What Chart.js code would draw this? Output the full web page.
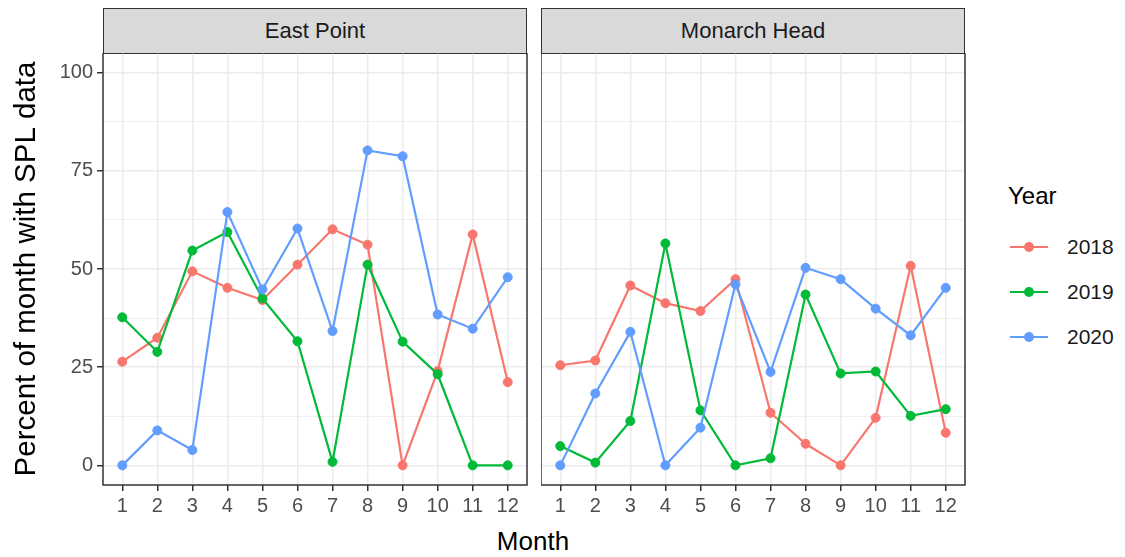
<!DOCTYPE html>
<html>
<head>
<meta charset="utf-8">
<script src="https://cdn.jsdelivr.net/npm/chart.js@4/dist/chart.umd.min.js"></script>
<style>
body{margin:0;background:#fff;font-family:"Liberation Sans",Arial,sans-serif;}
#wrap{position:relative;width:1125px;height:557px;overflow:hidden;}
.box{position:absolute;}
.strip{position:absolute;box-sizing:border-box;border:1.5px solid #333;background:#d9d9d9;color:#1a1a1a;font-size:22px;display:flex;align-items:center;justify-content:center;}
#xtitle{position:absolute;left:0;width:1066px;top:526px;text-align:center;font-size:26px;color:#000;}
#legend{position:absolute;left:1008px;top:182px;}
#legend .ttl{font-size:24px;color:#000;margin-bottom:14px;}
#legend .item{height:45px;display:flex;align-items:center;font-size:21px;color:#1a1a1a;}
#legend .key{position:relative;width:40px;height:20px;margin-right:19px;}
#legend .key .ln{position:absolute;left:2px;right:0;top:9px;height:2px;}
#legend .key .pt{position:absolute;left:16px;top:5px;width:10px;height:10px;border-radius:50%;}
</style>
</head>
<body>
<div id="wrap">
<div class="strip" style="left:103px;top:8px;width:424px;height:46px;">East Point</div>
<div class="strip" style="left:541px;top:8px;width:424px;height:46px;">Monarch Head</div>
<div class="box" style="left:0;top:53px;width:528px;height:470px;"><canvas id="c1"></canvas></div>
<div class="box" style="left:541px;top:53px;width:425px;height:470px;"><canvas id="c2"></canvas></div>
<div id="xtitle">Month</div>
<div id="legend"></div>
</div>
<script>
// ===== DATA =====
const months = [1,2,3,4,5,6,7,8,9,10,11,12];
const years = ["2018","2019","2020"];
const colors = ["#F8766D","#00BA38","#619CFF"];
const yTicks = [0,25,50,75,100];
const yMinor = [12.5,37.5,62.5,87.5];

// East Point
const east2018 = [26.4,32.5,49.4,45.2,42.1,51.1,60.1,56.2,0,24.0,58.8,21.2];
const east2019 = [37.7,28.9,54.7,59.4,42.5,31.6,0.9,51.1,31.5,23.2,0,0];
const east2020 = [0,8.9,3.9,64.5,44.8,60.3,34.2,80.2,78.7,38.4,34.8,47.9];

// Monarch Head
const mon2018 = [25.5,26.7,45.8,41.3,39.3,47.4,13.4,5.5,0,12.1,50.8,8.3];
const mon2019 = [4.9,0.7,11.3,56.5,14.0,0,1.8,43.5,23.4,23.9,12.6,14.3];
const mon2020 = [0,18.3,34.0,0,9.6,46.1,23.8,50.3,47.4,39.9,33.1,45.2];


/* ================= HELPERS ================= */
function makeSets(list){
return list.map((vals,i)=>({
label: years[i],
data: months.map((m,j)=>({x:m, y:vals[j]})),
borderColor: colors[i],
backgroundColor: colors[i],
pointBackgroundColor: colors[i],
pointBorderColor: colors[i],
borderWidth: 2.2,
pointRadius: 4.5,
pointBorderWidth: 1,
tension: 0,
order: 3-i
}));
}

const panelBorder = {
id:"panelBorder",
afterDraw(chart){
let a = chart.chartArea, ctx = chart.ctx;
ctx.save();
ctx.strokeStyle = "#333";
ctx.lineWidth = 1.5;
ctx.strokeRect(a.left, a.top, a.right-a.left, a.bottom-a.top);
ctx.restore();
}
};

// no auto padding for labels near the edges
function noPad(s){
s.paddingTop = 0; s.paddingBottom = 0;
s.paddingLeft = 0; s.paddingRight = 0;
}

function opts(showY){
return {
responsive: true,
maintainAspectRatio: false,
animation: false,
layout: { autoPadding: false, padding: { left:0, right:1, top:0, bottom:0 } },
plugins: { legend:{display:false}, tooltip:{enabled:false} },
scales: {
x: {
type: "linear",
min: 0.45, max: 12.55,
afterBuildTicks: s=>{ s.ticks = months.map(v=>({value:v})); },
afterFit: s=>{ s.height = 38; noPad(s); },
border: { display:false },
grid: {
color: "#ebebeb", lineWidth: 1.5,
tickColor: "#333", tickLength: 6, tickWidth: 1.5
},
ticks: {
autoSkip:false, maxRotation:0, padding:3,
color:"#4d4d4d",
font:{ family:"Liberation Sans, Arial, sans-serif", size:20 }
}
},
y: {
min: -5, max: 105,
afterBuildTicks: s=>{ s.ticks = yTicks.concat(yMinor).sort((a,b)=>a-b).map(v=>({value:v})); },
afterFit: s=>{ s.width = showY ? 103 : 0; noPad(s); },
border: { display:false },
grid: {
color: "#ebebeb",
lineWidth: c=> yMinor.includes(c.tick.value) ? 0.8 : 1.5,
drawTicks: showY,
tickColor: c=> yMinor.includes(c.tick.value) ? "rgba(0,0,0,0)" : "#333",
tickLength: 6, tickWidth: 1.5
},
ticks: {
display: showY,
autoSkip:false, padding:4,
color:"#4d4d4d",
font:{ family:"Liberation Sans, Arial, sans-serif", size:20 },
callback: v=> yTicks.includes(v) ? String(v) : ""
},
title: {
display: showY,
text: "Percent of month with SPL data",
color: "#000",
font:{ family:"Liberation Sans, Arial, sans-serif", size:29.5 },
padding:{ top:9, bottom:0 }
}
}
}
};
}


/* ================= CHARTS ================= */
new Chart(document.getElementById("c1"), {
type: "line",
data: { datasets: makeSets([east2018, east2019, east2020]) },
options: opts(true),
plugins: [panelBorder]
});

new Chart(document.getElementById("c2"), {
type: "line",
data: { datasets: makeSets([mon2018, mon2019, mon2020]) },
options: opts(false),
plugins: [panelBorder]
});


/* ================= LEGEND ================= */
let lg = `<div class="ttl">Year</div>`;
years.forEach((y,i)=>{
lg += `<div class="item"><div class="key"><div class="ln" style="background:${colors[i]}"></div><div class="pt" style="background:${colors[i]}"></div></div>${y}</div>`;
});
document.getElementById("legend").innerHTML = lg;
</script>
</body>
</html>
